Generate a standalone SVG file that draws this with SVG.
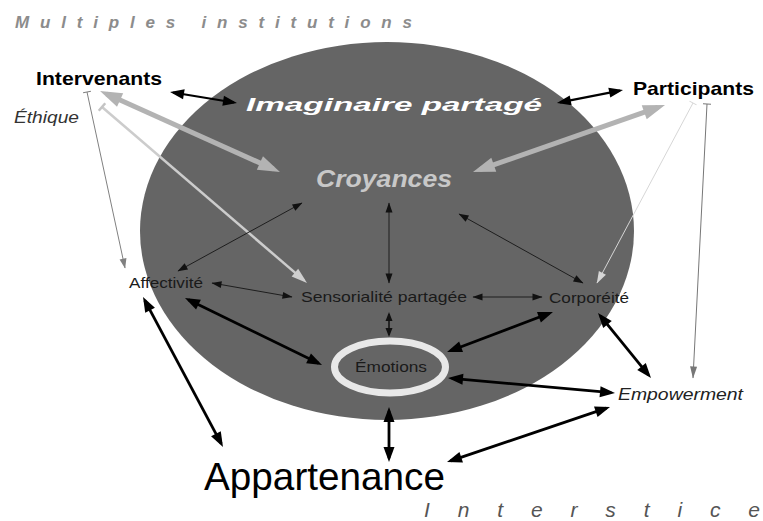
<svg xmlns="http://www.w3.org/2000/svg" width="763" height="521" viewBox="0 0 763 521">
<style>
text { font-family: "Liberation Sans", Arial, sans-serif; }
.lbl { font-size: 15px; fill: #1a1a1a; }
.big { font-size: 19px; font-weight: bold; fill: #000; }
.thin { stroke: #1e1e1e; stroke-width: 1; fill: none; marker-start: url(#ab); marker-end: url(#ab); }
.med { stroke: #111; stroke-width: 1.5; fill: none; marker-start: url(#am); marker-end: url(#am); }
.thick { stroke: #000; stroke-width: 2.8; fill: none; marker-start: url(#ak); marker-end: url(#ak); }
.top { stroke: #000; stroke-width: 2.2; fill: none; marker-start: url(#ai); marker-end: url(#ai); }
.gray { stroke: #b3b3b3; stroke-width: 5; fill: none; marker-start: url(#ag); marker-end: url(#ag); }
</style>
<defs>
<marker id="ab" markerUnits="userSpaceOnUse" orient="auto-start-reverse" markerWidth="10" markerHeight="7" refX="9.5" refY="3.5" overflow="visible"><path d="M0,0 L10,3.5 L0,7 z" fill="#111"/></marker>
<marker id="am" markerUnits="userSpaceOnUse" orient="auto-start-reverse" markerWidth="9" markerHeight="7" refX="7" refY="3.5" overflow="visible"><path d="M0,0 L9,3.5 L0,7 z" fill="#111"/></marker>
<marker id="ak" markerUnits="userSpaceOnUse" orient="auto-start-reverse" markerWidth="15" markerHeight="11" refX="11.2" refY="5.5" overflow="visible"><path d="M0,0 L15,5.5 L0,11 z" fill="#000"/></marker>
<marker id="ai" markerUnits="userSpaceOnUse" orient="auto-start-reverse" markerWidth="14" markerHeight="10" refX="10.9" refY="5" overflow="visible"><path d="M0,0 L14,5 L0,10 z" fill="#000"/></marker>
<marker id="ag" markerUnits="userSpaceOnUse" orient="auto-start-reverse" markerWidth="22" markerHeight="15" refX="14.7" refY="7.5" overflow="visible"><path d="M0,0 L22,7.5 L0,15 z" fill="#b3b3b3"/></marker>
<marker id="al" markerUnits="userSpaceOnUse" orient="auto" markerWidth="16" markerHeight="10" refX="12" refY="5" overflow="visible"><path d="M0,0 L16,5 L0,10 z" fill="#cfcfcf"/></marker>
<marker id="at" markerUnits="userSpaceOnUse" orient="auto" markerWidth="10" markerHeight="7" refX="9.5" refY="3.5" overflow="visible"><path d="M0,0 L10,3.5 L0,7 z" fill="#808080"/></marker>
<marker id="av" markerUnits="userSpaceOnUse" orient="auto" markerWidth="12" markerHeight="8" refX="11.5" refY="4" overflow="visible"><path d="M0,0 L12,4 L0,8 z" fill="#d6d6d6"/></marker>
<marker id="ad" markerUnits="userSpaceOnUse" orient="auto" markerWidth="12" markerHeight="7" refX="11.5" refY="3.5" overflow="visible"><path d="M0,0 L12,3.5 L0,7 z" fill="#777"/></marker>
<marker id="tl" markerUnits="userSpaceOnUse" orient="auto" markerWidth="2" markerHeight="10" refX="0" refY="0" overflow="visible"><path d="M0,-5 L0,5" stroke="#c4c4c4" stroke-width="2.5"/></marker>
<marker id="tt" markerUnits="userSpaceOnUse" orient="auto" markerWidth="2" markerHeight="8" refX="0" refY="0" overflow="visible"><path d="M0,-4 L0,4" stroke="#808080" stroke-width="1"/></marker>
<marker id="tv" markerUnits="userSpaceOnUse" orient="auto" markerWidth="2" markerHeight="8" refX="0" refY="0" overflow="visible"><path d="M0,-4 L0,4" stroke="#d6d6d6" stroke-width="1"/></marker>
<marker id="td" markerUnits="userSpaceOnUse" orient="auto" markerWidth="2" markerHeight="8" refX="0" refY="0" overflow="visible"><path d="M0,-4 L0,4" stroke="#777" stroke-width="1"/></marker>
</defs>

<rect width="763" height="521" fill="#fff"/>

<g id="frame-labels">
<text x="15" y="28" font-size="17" font-weight="bold" font-style="italic" fill="#8c8c8c" textLength="397" lengthAdjust="spacing">Multiples institutions</text>
<text x="424" y="517" font-size="21" font-style="italic" fill="#555" textLength="336" lengthAdjust="spacing">Interstice</text>
</g>

<g id="imaginaire">
<ellipse cx="387" cy="231" rx="247" ry="189" fill="#656565"/>
<text x="246" y="111" font-size="19" font-weight="bold" font-style="italic" fill="#fff" textLength="296" lengthAdjust="spacingAndGlyphs">Imaginaire partagé</text>
</g>

<g id="croyances">
<text x="316" y="187" font-size="24" font-weight="bold" font-style="italic" fill="#c8c8c8" textLength="136" lengthAdjust="spacingAndGlyphs">Croyances</text>
</g>

<g id="intervenants">
<text class="big" x="36" y="85" textLength="126" lengthAdjust="spacingAndGlyphs">Intervenants</text>
</g>

<g id="ethique">
<text x="14" y="123" font-size="17" font-style="italic" fill="#333" textLength="65" lengthAdjust="spacingAndGlyphs">Éthique</text>
</g>

<g id="participants">
<text class="big" x="633" y="95" textLength="121" lengthAdjust="spacingAndGlyphs">Participants</text>
</g>

<g id="affectivite">
<text class="lbl" x="129" y="288" textLength="74" lengthAdjust="spacingAndGlyphs">Affectivité</text>
</g>

<g id="sensorialite">
<text class="lbl" x="301" y="302" textLength="166" lengthAdjust="spacingAndGlyphs">Sensorialité partagée</text>
</g>

<g id="corporeite">
<text class="lbl" x="549" y="303" textLength="80" lengthAdjust="spacingAndGlyphs">Corporéité</text>
</g>

<g id="emotions">
<ellipse cx="390" cy="367" rx="55.5" ry="26" fill="#656565" stroke="#e8e8e8" stroke-width="7"/>
<text class="lbl" x="355" y="372" fill="#222" textLength="72" lengthAdjust="spacingAndGlyphs">Émotions</text>
</g>

<g id="empowerment">
<text x="618" y="400" font-size="16.5" font-style="italic" fill="#222" textLength="125" lengthAdjust="spacingAndGlyphs">Empowerment</text>
</g>

<g id="appartenance">
<text x="204" y="490" font-size="39" fill="#000" textLength="241" lengthAdjust="spacingAndGlyphs">Appartenance</text>
</g>

<g id="connectors">
<path class="top" d="M173.1,92.5 L233.9,102.5"/>
<path class="top" d="M560,102.4 L620,90.6"/>
<path class="gray" d="M106.7,94 L273.3,169"/>
<path class="gray" d="M479.9,169.6 L658.1,107.4"/>
<path d="M102,107 L304,280.4" stroke="#cccccc" stroke-width="2.5" fill="none" marker-start="url(#tl)" marker-end="url(#al)"/>
<path d="M87,92 L125,268" stroke="#808080" stroke-width="1" fill="none" marker-start="url(#tt)" marker-end="url(#at)"/>
<path d="M693,103 L597,283" stroke="#d6d6d6" stroke-width="1" fill="none" marker-start="url(#tv)" marker-end="url(#av)"/>
<path d="M707,104 L693,378" stroke="#777" stroke-width="1" fill="none" marker-start="url(#td)" marker-end="url(#ad)"/>
<path class="thin" d="M302,203 L178,271"/>
<path class="thin" d="M389,203 L389,283"/>
<path class="thin" d="M459,214 L583,283"/>
<path class="thin" d="M212,283 L292,297"/>
<path class="thin" d="M473,297 L542,297"/>
<path class="med" d="M389,314 L389,335"/>
<path class="thick" d="M188.4,299.7 L318.6,363.3"/>
<path class="thick" d="M549.4,313.3 L450.6,350.7"/>
<path class="thick" d="M600.4,315.9 L648.6,375.1"/>
<path class="thick" d="M451.8,378.3 L611.2,392.7"/>
<path class="thick" d="M389,410.8 L389,458.2"/>
<path class="thick" d="M606.4,408.2 L450.6,460.8"/>
<path class="thick" d="M144.8,300.4 L221.2,443.6"/>
</g>
</svg>
